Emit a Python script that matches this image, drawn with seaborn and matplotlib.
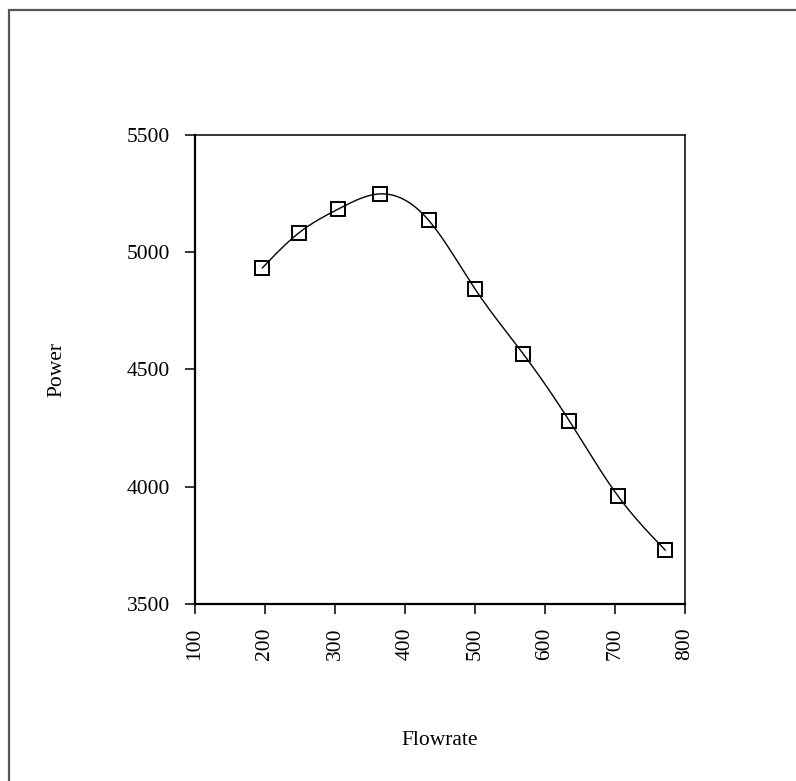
import numpy as np
import pandas as pd
import matplotlib
matplotlib.use("Agg")
import matplotlib.pyplot as plt
import seaborn as sns
from matplotlib.lines import Line2D

# Data
flowrate = [196, 248, 305, 364, 434, 500, 569, 635, 704, 772]
power = [4931, 5080, 5183, 5247, 5134, 4842, 4565, 4279, 3961, 3729]
x_ticks = [100, 200, 300, 400, 500, 600, 700, 800]
y_ticks = [3500, 4000, 4500, 5000, 5500]

sns.set_theme(style="ticks")
plt.rcParams['font.family'] = ['Liberation Serif', 'DejaVu Serif']


def natural_spline(x, y, xs):
    x = np.asarray(x, float)
    y = np.asarray(y, float)
    n = len(x)
    h = np.diff(x)
    A = np.zeros((n, n))
    b = np.zeros(n)
    A[0, 0] = 1
    A[-1, -1] = 1
    for i in range(1, n - 1):
        A[i, i - 1] = h[i - 1]
        A[i, i] = 2 * (h[i - 1] + h[i])
        A[i, i + 1] = h[i]
        b[i] = 6 * ((y[i + 1] - y[i]) / h[i] - (y[i] - y[i - 1]) / h[i - 1])
    M = np.linalg.solve(A, b)
    out = np.empty_like(xs)
    for j, xv in enumerate(xs):
        i = min(max(np.searchsorted(x, xv) - 1, 0), n - 2)
        t1 = x[i + 1] - xv
        t0 = xv - x[i]
        out[j] = (M[i] * t1 ** 3 / (6 * h[i]) + M[i + 1] * t0 ** 3 / (6 * h[i])
                  + (y[i] / h[i] - M[i] * h[i] / 6) * t1
                  + (y[i + 1] / h[i] - M[i + 1] * h[i] / 6) * t0)
    return out


df = pd.DataFrame({"Flowrate": flowrate, "Power": power})
xs = np.linspace(min(flowrate), max(flowrate), 400)
curve = pd.DataFrame({"Flowrate": xs, "Power": natural_spline(flowrate, power, xs)})

fig = plt.figure(figsize=(7.96, 7.81), dpi=100, facecolor="white")
ax = fig.add_axes([195 / 796, 1 - 604 / 781, 490 / 796, 469.5 / 781])
ax.set_facecolor("white")

sns.lineplot(data=curve, x="Flowrate", y="Power", ax=ax, color="black",
             linewidth=1.0, sort=False, estimator=None)
sns.lineplot(data=df, x="Flowrate", y="Power", ax=ax, linestyle="", marker="s",
             markersize=10.5, markerfacecolor="none", markeredgecolor="black",
             markeredgewidth=1.4, estimator=None)

ax.set_xlim(100, 800)
ax.set_ylim(3500, 5500)
ax.set_xticks(x_ticks)
ax.set_yticks(y_ticks)
ax.set_xticklabels([str(v) for v in x_ticks], rotation=90)
ax.set_yticklabels([str(v) for v in y_ticks])
ax.tick_params(axis="both", direction="out", length=7, width=1.1, color="black",
               labelsize=15.5, labelcolor="black")
ax.tick_params(axis="y", pad=11)
ax.tick_params(axis="x", pad=10)

for side in ["top", "right"]:
    ax.spines[side].set_visible(True)
    ax.spines[side].set_linewidth(1.1)
    ax.spines[side].set_color("black")
for side in ["left", "bottom"]:
    ax.spines[side].set_linewidth(1.6)
    ax.spines[side].set_color("black")

ax.set_xlabel("Flowrate", fontsize=15.5, color="black")
ax.set_ylabel("Power", fontsize=15.5, color="black")
ax.xaxis.set_label_coords(0.5, (604 - 731) / 469.5)
ax.yaxis.set_label_coords((66 - 195) / 490, 0.5)

# outer frame (only top and left edges visible in the reference)
fig.add_artist(Line2D([9 / 796, 1.0], [1 - 10 / 781, 1 - 10 / 781],
                      transform=fig.transFigure, color="#555555", linewidth=1.6))
fig.add_artist(Line2D([9 / 796, 9 / 796], [0.0, 1 - 10 / 781],
                      transform=fig.transFigure, color="#555555", linewidth=1.6))

fig.savefig("out.png", dpi=100, facecolor="white")
